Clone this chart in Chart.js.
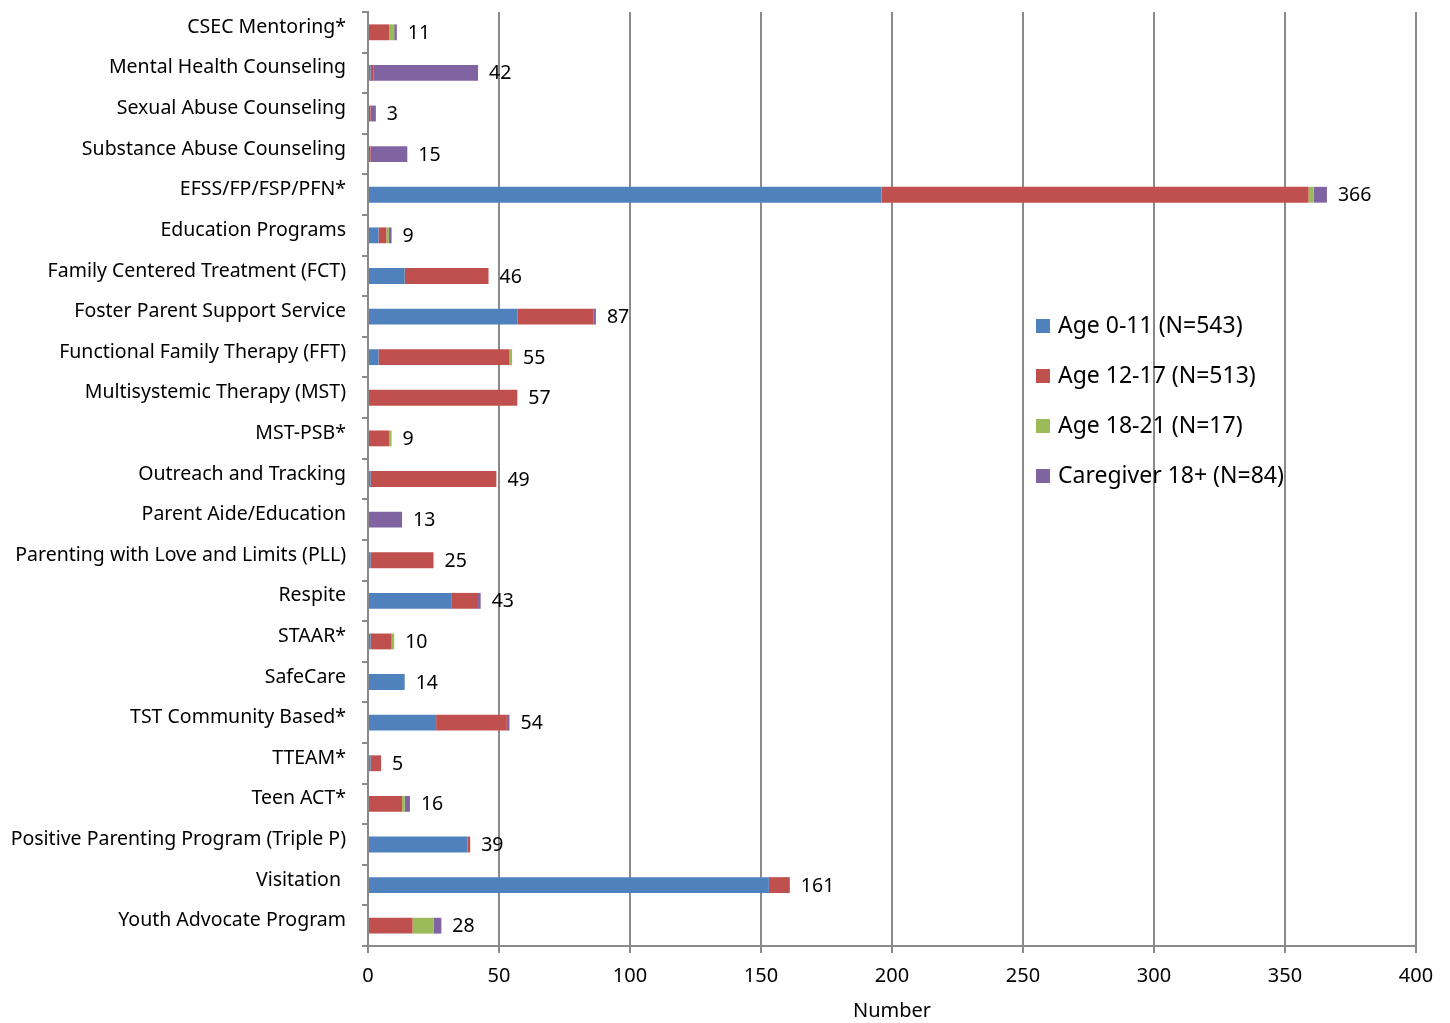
<!DOCTYPE html>
<html lang="en">
<head>
    <meta charset="UTF-8">
    <title>Services by Age Group</title>
    <script src="https://cdn.jsdelivr.net/npm/chart.js"></script>
    <style>
        body { margin: 0; background: #fff; }
        #chartContainer { width: 1450px; height: 1023px; }
    </style>
</head>
<body>

<div id="chartContainer">
    <canvas id="servicesChart"></canvas>
</div>

<script type="text/javascript">
    // Services and number of people served, split by age group
    const services = [
        'CSEC Mentoring*',
        'Mental Health Counseling',
        'Sexual Abuse Counseling',
        'Substance Abuse Counseling',
        'EFSS/FP/FSP/PFN*',
        'Education Programs',
        'Family Centered Treatment (FCT)',
        'Foster Parent Support Service',
        'Functional Family Therapy (FFT)',
        'Multisystemic Therapy (MST)',
        'MST-PSB*',
        'Outreach and Tracking',
        'Parent Aide/Education',
        'Parenting with Love and Limits (PLL)',
        'Respite',
        'STAAR*',
        'SafeCare',
        'TST Community Based*',
        'TTEAM*',
        'Teen ACT*',
        'Positive Parenting Program (Triple P)',
        'Visitation ',
        'Youth Advocate Program'
    ];
    const age0to11   = [0, 1, 0, 0, 196, 4, 14, 57, 4, 0, 0, 1, 0, 1, 32, 1, 14, 26, 1, 0, 38, 153, 0];
    const age12to17  = [8, 1, 1, 1, 163, 3, 32, 29, 50, 57, 8, 48, 0, 24, 10, 8, 0, 27, 4, 13, 1, 8, 17];
    const age18to21  = [2, 0, 0, 0, 2, 1, 0, 0, 1, 0, 1, 0, 0, 0, 0, 1, 0, 0, 0, 1, 0, 0, 8];
    const caregivers = [1, 40, 2, 14, 5, 1, 0, 1, 0, 0, 0, 0, 13, 0, 1, 0, 0, 1, 0, 2, 0, 0, 3];

    const seriesNames = ['Age 0-11 (N=543)', 'Age 12-17 (N=513)', 'Age 18-21 (N=17)', 'Caregiver 18+ (N=84)'];
    const seriesColors = ['#4F81BD', '#C0504D', '#9BBB59', '#8064A2'];

    const totals = services.map((_, i) => age0to11[i] + age12to17[i] + age18to21[i] + caregivers[i]);

    const fontFamily = "'Noto Sans', sans-serif";
    const gridColor = '#8a8a8a';
    Chart.defaults.font.family = fontFamily;
    Chart.defaults.color = '#000';

    // total number written just past the end of each bar
    const totalsLabels = {
        id: 'totalsLabels',
        afterDatasetsDraw(chart) {
            const { ctx, scales: { x, y } } = chart;
            ctx.save();
            ctx.font = '19.5px ' + fontFamily;
            ctx.fillStyle = '#000';
            ctx.textAlign = 'left';
            ctx.textBaseline = 'middle';
            totals.forEach((t, i) => {
                ctx.fillText(String(t), x.getPixelForValue(t) + 11, y.getPixelForValue(i) + 1);
            });
            ctx.restore();
        }
    };

    // legend block sitting inside the plot, over the grid lines
    const sideLegend = {
        id: 'sideLegend',
        afterDatasetsDraw(chart) {
            const { ctx, chartArea } = chart;
            const left = chartArea.left + 668;
            const top = chartArea.top + 314;
            ctx.save();
            ctx.font = '23px ' + fontFamily;
            ctx.textAlign = 'left';
            ctx.textBaseline = 'middle';
            chart.data.datasets.forEach((ds, i) => {
                const cy = top + i * 50;
                ctx.fillStyle = ds.backgroundColor;
                ctx.fillRect(left, cy - 7, 14, 14);
                ctx.fillStyle = '#000';
                ctx.fillText(ds.label, left + 22, cy);
            });
            ctx.restore();
        }
    };

    const seriesValues = [age0to11, age12to17, age18to21, caregivers];

    new Chart(document.getElementById('servicesChart'), {
        type: 'bar',
        data: {
            labels: services,
            datasets: seriesValues.map((values, i) => ({
                label: seriesNames[i],
                data: values,
                backgroundColor: seriesColors[i],
                borderWidth: 0,
                barPercentage: 0.39,
                categoryPercentage: 1
            }))
        },
        options: {
            indexAxis: 'y',
            responsive: true,
            maintainAspectRatio: false,
            animation: false,
            layout: { padding: { top: 12, right: 34, bottom: 0, left: 0 } },
            plugins: {
                legend: { display: false },
                tooltip: { enabled: false }
            },
            scales: {
                x: {
                    stacked: true,
                    min: 0,
                    max: 400,
                    ticks: { stepSize: 50, font: { size: 20 }, padding: 11 },
                    grid: { color: gridColor, lineWidth: 2, tickLength: 7 },
                    border: { color: gridColor, width: 2 },
                    title: { display: true, text: 'Number', font: { size: 20 }, padding: 0 },
                    afterFit: s => { s.height = 77; }
                },
                y: {
                    stacked: true,
                    grid: { drawOnChartArea: false, offset: true, tickLength: 6, color: gridColor, lineWidth: 2 },
                    border: { color: gridColor, width: 2 },
                    ticks: { autoSkip: false, font: { size: 19.5 }, padding: 16, labelOffset: -5 },
                    afterFit: s => {
                        s.width = 368;
                        s.paddingTop = 0;
                        s.paddingBottom = 0;
                    }
                }
            }
        },
        plugins: [totalsLabels, sideLegend]
    });
</script>

</body>
</html>
